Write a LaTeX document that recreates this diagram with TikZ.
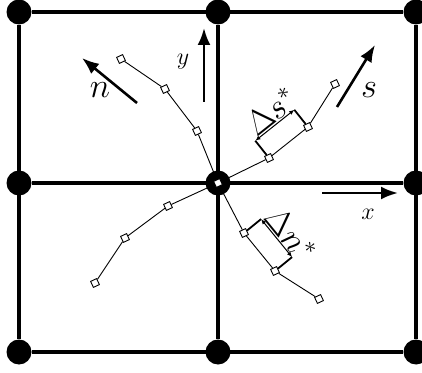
\documentclass[tikz,border=0pt]{standalone}
\usetikzlibrary{arrows.meta,calc}
\tikzset{
  gridpt/.style={circle,fill=black,inner sep=0pt,minimum size=12.5pt},
  gridline/.style={line width=1.6pt},
  part/.style={draw,fill=white,rectangle,inner sep=0pt,minimum size=3.3pt,line width=0.45pt,rotate=25},
  chain/.style={line width=0.45pt},
  dirarrow/.style={line width=1.3pt,-{Latex[length=8.5pt,width=6.5pt]}},
  tick/.style={line width=0.9pt},
  dimarrow/.style={line width=0.5pt,{Latex[length=2.6pt,width=2.2pt]}-{Latex[length=2.6pt,width=2.2pt]}},
  dimlabel/.style={sloped,above,pos=0.62,inner sep=0.5pt,font=\LARGE},
}

\begin{document}
\begin{tikzpicture}[x=0.5pt,y=-0.5pt]
  \useasboundingbox (0,0) rectangle (422,373);
  % grid points and cell edges
  \foreach \i/\gx in {0/19,1/218,2/416}
    \foreach \j/\gy in {0/12,1/183,2/352}
      \node[gridpt] (g\i\j) at (\gx,\gy) {};
  \draw[gridline] (g00) -- (g20) (g01) -- (g21) (g02) -- (g22) (g00) -- (g02) (g10) -- (g12) (g20) -- (g22);
  % particles
  \node[part] (p0) at (g11) {};
  \foreach \n/\px/\py in {a1/197/131,a2/165/89,a3/121/59,b1/269/158,b2/308/127,b3/335/84,
                          c1/168/206,c2/125/238,c3/95/283,d1/244/233,d2/275/271,d3/319/299}
    \node[part] (\n) at (\px,\py) {};
  \draw[chain] (p0) -- (a1) -- (a2) -- (a3);
  \draw[chain] (p0) -- (b1) -- (b2) -- (b3);
  \draw[chain] (p0) -- (c1) -- (c2) -- (c3);
  \draw[chain] (p0) -- (d1) -- (d2) -- (d3);
  % spacings
  \coordinate (sA) at ($(b1)!11pt!90:(b2)$);
  \coordinate (sB) at ($(b2)!11pt!-90:(b1)$);
  \draw[tick] (b1) -- (sA); \draw[tick] (b2) -- (sB);
  \draw[dimarrow] (sA) -- node[dimlabel] {$\Delta s^*$} (sB);
  \coordinate (nA) at ($(d1)!11pt!90:(d2)$);
  \coordinate (nB) at ($(d2)!11pt!-90:(d1)$);
  \draw[tick] (d1) -- (nA); \draw[tick] (d2) -- (nB);
  \draw[dimarrow] (nA) -- node[dimlabel] {$\Delta n^*$} (nB);
  % directions
  \coordinate (nt) at (137,103); \coordinate (nh) at (82,58);
  \coordinate (yt) at (204,102); \coordinate (yh) at (204,28);
  \coordinate (st) at (337,107); \coordinate (sh) at (375,45);
  \coordinate (xt) at (322,193); \coordinate (xh) at (398,193);
  \draw[dirarrow] (nt) -- (nh); \draw[dirarrow] (yt) -- (yh);
  \draw[dirarrow] (st) -- (sh); \draw[dirarrow] (xt) -- (xh);
  \node[font=\LARGE] (nlab) at (100,90) {$n$};
  \node[font=\LARGE] (slab) at (369,90) {$s$};
  \node[font=\large] (ylab) at (183,62) {$y$};
  \node[font=\large] (xlab) at (368,214) {$x$};
\end{tikzpicture}
\end{document}
